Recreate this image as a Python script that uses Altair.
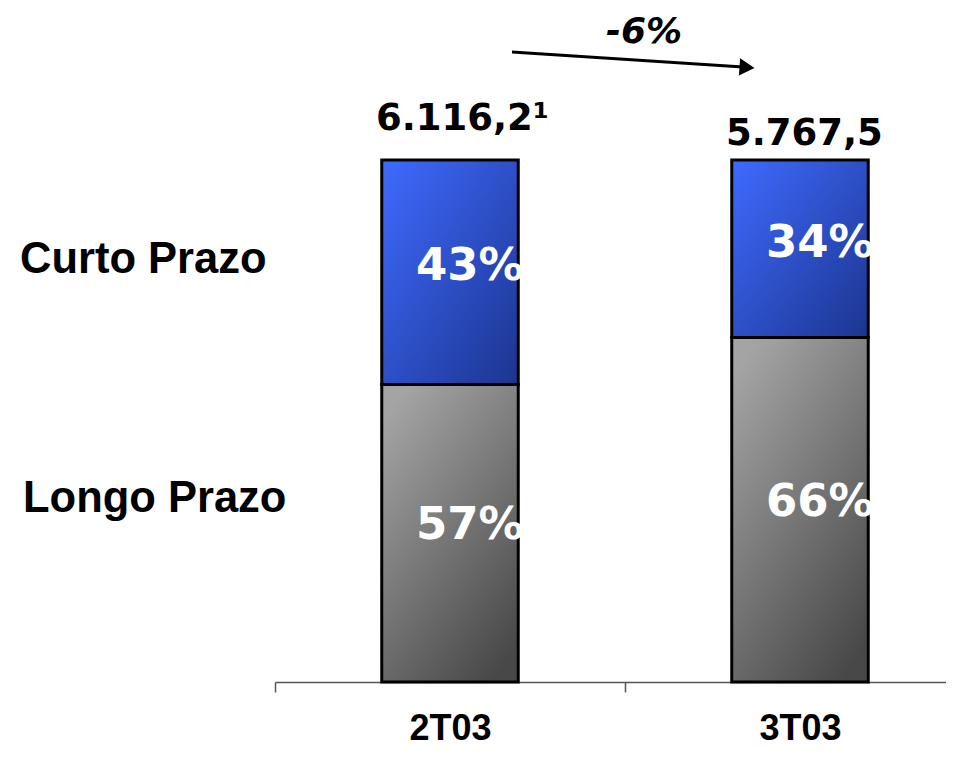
import altair as alt
import pandas as pd

periods = ["2T03", "3T03"]
totals = ["6.116,2¹", "5.767,5"]
curto_pct = [43, 34]
longo_pct = [57, 66]
series_names = ["Longo Prazo", "Curto Prazo"]
change_label = ["-6%"]

rows = []
for i, p in enumerate(periods):
    rows.append(dict(period=p, series=series_names[0], pct=longo_pct[i], order=0, total=totals[i]))
    rows.append(dict(period=p, series=series_names[1], pct=curto_pct[i], order=1, total=totals[i]))
df = pd.DataFrame(rows)

x_scale = alt.Scale(domain=periods, range=[0, 700], paddingInner=0, paddingOuter=0)
y_scale = alt.Scale(domain=[0, 100], nice=False, zero=True)

x_axis = alt.X(
    "period:N", scale=x_scale,
    axis=alt.Axis(title=None, tickBand="extent", domainColor="#555555", tickColor="#555555",
                  tickSize=10, domainWidth=1.5, tickWidth=1.5, labelFont="Liberation Sans",
                  labelFontWeight="bold", labelFontSize=36, labelColor="black", labelAngle=0,
                  labelBaseline="alphabetic", labelPadding=47, grid=False),
)

base = (
    alt.Chart(df)
    .transform_stack(stack="pct", groupby=["period"], as_=["y0", "y1"],
                     sort=[alt.SortField("order", order="ascending")])
    .transform_calculate(mid="(datum.y0 + datum.y1) / 2", label="datum.pct + '%'")
)

gray_grad = alt.Gradient(
    gradient="linear",
    stops=[alt.GradientStop(color="#a4a4a4", offset=0), alt.GradientStop(color="#484848", offset=1)],
    x1=0.2, y1=0, x2=0.8, y2=1,
)
blue_grad = alt.Gradient(
    gradient="linear",
    stops=[alt.GradientStop(color="#3f6aff", offset=0), alt.GradientStop(color="#1c3590", offset=1)],
    x1=0, y1=0, x2=1, y2=1,
)

bar_kw = dict(stroke="black", strokeWidth=3, width=alt.RelativeBandSize(0.39))

bars_longo = base.transform_filter("datum.series == 'Longo Prazo'").mark_bar(fill=gray_grad, **bar_kw).encode(
    x=x_axis, y=alt.Y("y0:Q", scale=y_scale, axis=None), y2="y1:Q")
bars_curto = base.transform_filter("datum.series == 'Curto Prazo'").mark_bar(fill=blue_grad, **bar_kw).encode(
    x=x_axis, y=alt.Y("y0:Q", scale=y_scale, axis=None), y2="y1:Q")

pct_kw = dict(align="left", baseline="middle", dx=-34, font="DejaVu Sans", fontWeight="bold",
              fontSize=45, color="white")
pct_curto = base.transform_filter("datum.series == 'Curto Prazo'").mark_text(dy=-6, **pct_kw).encode(
    x=x_axis, y=alt.Y("mid:Q", scale=y_scale, axis=None), text="label:N")
pct_longo = base.transform_filter("datum.series == 'Longo Prazo'").mark_text(dy=-8, **pct_kw).encode(
    x=x_axis, y=alt.Y("mid:Q", scale=y_scale, axis=None), text="label:N")

tot_kw = dict(align="left", baseline="alphabetic", dx=-74, font="DejaVu Sans", fontWeight="bold",
              fontSize=37, color="black")
tot1 = base.transform_filter(f"datum.series == 'Curto Prazo' && datum.period == '{periods[0]}'").mark_text(
    dy=-30, **tot_kw).encode(x=x_axis, y=alt.Y("y1:Q", scale=y_scale, axis=None), text="total:N")
tot2 = base.transform_filter(f"datum.series == 'Curto Prazo' && datum.period == '{periods[1]}'").mark_text(
    dy=-15, **tot_kw).encode(x=x_axis, y=alt.Y("y1:Q", scale=y_scale, axis=None), text="total:N")

lab_kw = dict(align="left", baseline="alphabetic", font="Liberation Sans", fontWeight="bold",
              fontSize=43.5, color="black")
lab_curto = base.transform_filter(f"datum.series == 'Curto Prazo' && datum.period == '{periods[0]}'").mark_text(
    dy=1, **lab_kw).encode(x=alt.value(-255), y=alt.Y("mid:Q", scale=y_scale, axis=None), text="series:N")
lab_longo = base.transform_filter(f"datum.series == 'Longo Prazo' && datum.period == '{periods[0]}'").mark_text(
    dy=-21, **lab_kw).encode(x=alt.value(-252), y=alt.Y("mid:Q", scale=y_scale, axis=None), text="series:N")

ann = alt.Chart(pd.DataFrame({"t": change_label}))
arrow_line = ann.mark_rule(color="black", strokeWidth=3).encode(
    x=alt.value(237), y=alt.value(-108), x2=alt.value(468), y2=alt.value(-93))
arrow_head = ann.mark_point(shape="triangle-right", filled=True, size=300, angle=4, color="black",
                            opacity=1).encode(x=alt.value(472), y=alt.value(-92.5))
change_text = ann.mark_text(align="center", baseline="alphabetic", font="DejaVu Sans", fontWeight="bold",
                            fontStyle="italic", fontSize=36, color="black").encode(
    x=alt.value(369), y=alt.value(-117), text="t:N")

chart = (
    alt.layer(bars_longo, bars_curto, pct_curto, pct_longo, tot1, tot2, lab_curto, lab_longo,
              arrow_line, arrow_head, change_text)
    .properties(width=671, height=522, background="white",
                padding={"left": 267, "top": 152, "right": 0, "bottom": 66},
                autosize=alt.AutoSizeParams(type="none"))
    .configure_view(stroke="transparent", strokeWidth=0)
)

chart.save("out.html", embed_options={"renderer": "svg", "actions": False})
